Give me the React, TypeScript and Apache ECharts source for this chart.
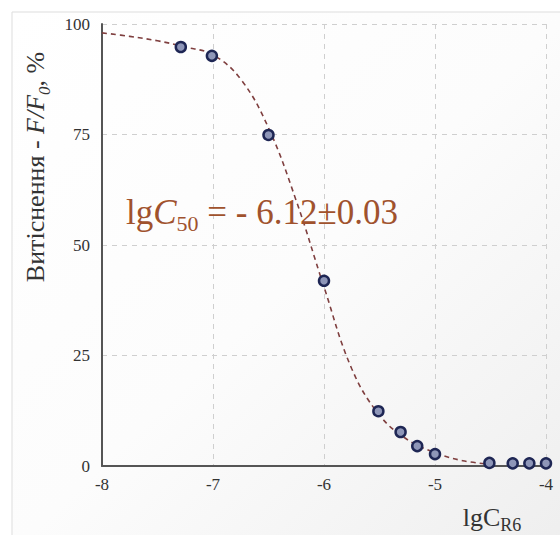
import React, { useEffect, useRef } from "react";
import * as echarts from "echarts";

// measured points: lg C (x) and displacement F/F0, % (y)
const pointX = [-7.29, -7.01, -6.5, -6.0, -5.51, -5.31, -5.16, -5.0, -4.51, -4.3, -4.15, -4.0];
const pointY = [94.8, 92.8, 74.9, 41.9, 12.4, 7.7, 4.5, 2.7, 0.7, 0.6, 0.6, 0.6];

// fitted curve
const curveX = [-8, -7.75, -7.5, -7.25, -7.0, -6.75, -6.5, -6.25, -6.0, -5.75, -5.5, -5.25, -5.0, -4.75, -4.5];
const curveY = [98.0, 97.2, 96.2, 94.8, 93.0, 87.5, 76.5, 60.0, 40.5, 22.0, 11.5, 6.0, 3.0, 1.2, 0.4];

const xTicks = [-8, -7, -6, -5, -4];
const yTicks = [0, 25, 50, 75, 100];

const SERIF = "Liberation Serif";

export default function App() {
  const ref = useRef<HTMLDivElement>(null);
  useEffect(() => {
    if (!ref.current) return;
    const chart = echarts.init(ref.current, null, { renderer: "svg" });
    const labelStyle = { fontFamily: SERIF, fontSize: 17, color: "#333" };
    const brown = "#a0522d";
    const ink = "#333333";
    chart.setOption({
      animation: false,
      backgroundColor: "#ffffff",
      textStyle: { fontFamily: SERIF },
      grid: { left: 102, top: 24, width: 444, height: 442 },
      xAxis: {
        type: "value",
        min: xTicks[0],
        max: xTicks[xTicks.length - 1],
        interval: 1,
        axisLine: { show: true, onZero: false, lineStyle: { color: "#555", width: 2 } },
        axisTick: { show: false },
        axisLabel: { ...labelStyle, margin: 10 },
        splitLine: { show: true, lineStyle: { color: "#cfcfcf", type: [5, 5], width: 1 } },
      },
      yAxis: {
        type: "value",
        min: yTicks[0],
        max: yTicks[yTicks.length - 1],
        interval: 25,
        axisLine: { show: true, onZero: false, lineStyle: { color: "#555", width: 2 } },
        axisTick: { show: false },
        axisLabel: { ...labelStyle, margin: 12 },
        splitLine: { show: true, lineStyle: { color: "#cfcfcf", type: [5, 5], width: 1 } },
      },
      graphic: [
        {
          type: "rect",
          z: -100,
          silent: true,
          shape: { x: 12, y: 12, width: 560, height: 540 },
          style: {
            fill: new echarts.graphic.LinearGradient(0, 0, 1, 1, [
              { offset: 0, color: "#ffffff" },
              { offset: 0.5, color: "#fcfcfc" },
              { offset: 1, color: "#eeeeee" },
            ]),
            stroke: "#dddddd",
            lineWidth: 1,
          },
        },
        {
          type: "text",
          z: 100,
          x: 126,
          y: 212,
          style: {
            text: "{a|lg}{c|C}{s|50}{a| = - 6.12±0.03}",
            verticalAlign: "middle",
            fontFamily: SERIF,
            fill: brown,
            rich: {
              a: { fontFamily: SERIF, fontSize: 35, fill: brown },
              c: { fontFamily: SERIF, fontSize: 35, fontStyle: "italic", fill: brown },
              s: { fontFamily: SERIF, fontSize: 22, fill: brown, verticalAlign: "bottom", lineHeight: 44 },
            },
          },
        },
        {
          type: "text",
          z: 100,
          x: 35,
          y: 167,
          rotation: Math.PI / 2,
          style: {
            text: "{a|Витіснення - }{i|F/F}{s|0}{a|, %}",
            align: "center",
            verticalAlign: "middle",
            fontFamily: SERIF,
            fill: ink,
            rich: {
              a: { fontFamily: SERIF, fontSize: 26, fill: ink },
              i: { fontFamily: SERIF, fontSize: 26, fontStyle: "italic", fill: ink },
              s: { fontFamily: SERIF, fontSize: 17, fontStyle: "italic", fill: ink, verticalAlign: "bottom", lineHeight: 36 },
            },
          },
        },
        {
          type: "text",
          z: 100,
          x: 492,
          y: 517,
          style: {
            text: "{a|lgC}{s|R6}",
            align: "center",
            verticalAlign: "middle",
            fontFamily: SERIF,
            fill: ink,
            rich: {
              a: { fontFamily: SERIF, fontSize: 26, fill: ink },
              s: { fontFamily: SERIF, fontSize: 18, fill: ink, verticalAlign: "bottom", lineHeight: 34 },
            },
          },
        },
      ],
      series: [
        {
          type: "line",
          data: curveX.map((x, i) => [x, curveY[i]]),
          smooth: 0.4,
          showSymbol: false,
          symbol: "none",
          lineStyle: { color: "#7f3f3f", width: 1.6, type: [5, 4] },
          z: 2,
        },
        {
          type: "scatter",
          data: pointX.map((x, i) => [x, pointY[i]]),
          symbol: "circle",
          symbolSize: 10,
          itemStyle: { color: "#8e96b8", borderColor: "#1e2654", borderWidth: 2.5, opacity: 1 },
          z: 3,
        },
      ],
    });
    return () => chart.dispose();
  }, []);
  return (
    <div
      ref={ref}
      style={{ position: "fixed", left: 0, top: 0, width: 560, height: 535 }}
    />
  );
}
